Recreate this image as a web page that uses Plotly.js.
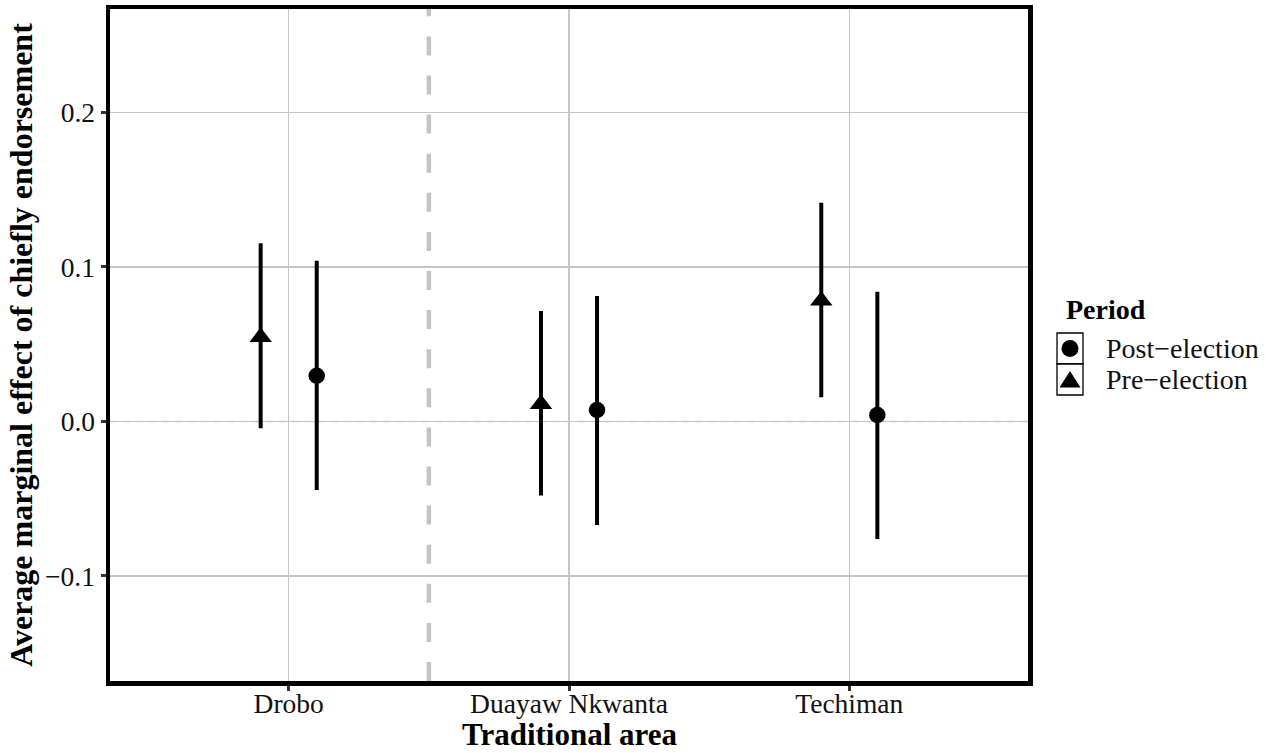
<!DOCTYPE html>
<html><head><meta charset="utf-8">
<script src="https://cdn.plot.ly/plotly-3.0.1.min.js"></script>
<style>html,body{margin:0;padding:0;background:#fff}#chart{width:1274px;height:753px}</style>
</head><body><div id="chart"></div>
<script>
// ---- data ----
const categories = ['Drobo', 'Duayaw Nkwanta', 'Techiman'];
const preEstimate = [0.0546, 0.0113, 0.0782];
const preLower = [-0.0044, -0.0480, 0.0157];
const preUpper = [0.1153, 0.0715, 0.1416];
const postEstimate = [0.0296, 0.0074, 0.0042];
const postLower = [-0.0443, -0.0670, -0.0761];
const postUpper = [0.1041, 0.0812, 0.0840];
const yTickVals = [-0.1, 0, 0.1, 0.2];
const periodTitle = 'Period';
const periodLabels = ['Post\u2212election', 'Pre\u2212election'];
const xTitle = 'Traditional area';
const yTitle = 'Average marginal effect of chiefly endorsement';

// ---- layout helpers ----
const W = 1274, H = 753;
const L = 110, R = 1028, T = 9, B = 681;
const px2x = p => (p - L) / (R - L);
const px2y = p => (B - p) / (B - T);
const FONT = 'Liberation Serif, Times New Roman, serif';

const up = (u, e) => u.map((v, i) => v - e[i]);
const dn = (l, e) => e.map((v, i) => v - l[i]);

const tracePre = {
  type: 'scatter', mode: 'markers', name: periodLabels[1],
  x: categories, y: preEstimate, offsetgroup: 'pre', showlegend: false,
  marker: {symbol: 'triangle-up', size: 19.5, color: '#000'},
  error_y: {type: 'data', symmetric: false, array: up(preUpper, preEstimate),
            arrayminus: dn(preLower, preEstimate), width: 0, thickness: 4, color: '#000'},
  hoverinfo: 'x+y'
};
const tracePost = {
  type: 'scatter', mode: 'markers', name: periodLabels[0],
  x: categories, y: postEstimate, offsetgroup: 'post', showlegend: false,
  marker: {symbol: 'circle', size: 16.5, color: '#000'},
  error_y: {type: 'data', symmetric: false, array: up(postUpper, postEstimate),
            arrayminus: dn(postLower, postEstimate), width: 0, thickness: 4, color: '#000'},
  hoverinfo: 'x+y'
};

const keyX0 = px2x(1057), keyX1 = px2x(1083), keyXC = px2x(1070);
const shapes = [
  {type: 'line', layer: 'below', xref: 'paper', yref: 'y', x0: 0, x1: 1, y0: 0, y1: 0,
   line: {color: '#d2d2d2', width: 1.6, dash: '7px,6px'}},
  {type: 'line', layer: 'below', xref: 'x', yref: 'paper', x0: 0.5, x1: 0.5, y0: 0, y1: 1,
   line: {color: '#c4c4c4', width: 4.5, dash: '19px,20.1px'}},
  {type: 'rect', xref: 'paper', yref: 'paper', x0: keyX0, x1: keyX1, y0: px2y(364), y1: px2y(333),
   line: {color: '#000', width: 1.3}, fillcolor: '#fff'},
  {type: 'rect', xref: 'paper', yref: 'paper', x0: keyX0, x1: keyX1, y0: px2y(395), y1: px2y(364),
   line: {color: '#000', width: 1.3}, fillcolor: '#fff'},
  {type: 'circle', xref: 'paper', yref: 'paper', xsizemode: 'pixel', ysizemode: 'pixel',
   xanchor: keyXC, yanchor: px2y(348.5), x0: -8.5, x1: 8.5, y0: -8.5, y1: 8.5,
   fillcolor: '#000', line: {width: 0}},
  {type: 'path', xref: 'paper', yref: 'paper', xsizemode: 'pixel', ysizemode: 'pixel',
   xanchor: keyXC, yanchor: px2y(379.5), path: 'M-10.5,-8 L10.5,-8 L0,8.5 Z',
   fillcolor: '#000', line: {width: 0}}
];

const annotations = [
  {xref: 'paper', yref: 'paper', x: 0.5, y: px2y(734), xanchor: 'center', yanchor: 'middle',
   text: '<b>' + xTitle + '</b>', showarrow: false, font: {family: FONT, size: 31, color: '#000'}},
  {xref: 'paper', yref: 'paper', x: px2x(1064), y: px2y(309), xanchor: 'left', yanchor: 'middle',
   text: '<b>' + periodTitle + '</b>', showarrow: false, font: {family: FONT, size: 28, color: '#000'}},
  {xref: 'paper', yref: 'paper', x: px2x(1104), y: px2y(348), xanchor: 'left', yanchor: 'middle',
   text: periodLabels[0], showarrow: false, font: {family: FONT, size: 28, color: '#111'}},
  {xref: 'paper', yref: 'paper', x: px2x(1104), y: px2y(379), xanchor: 'left', yanchor: 'middle',
   text: periodLabels[1], showarrow: false, font: {family: FONT, size: 28, color: '#111'}}
];

const layout = {
  width: W, height: H,
  margin: {l: L, r: W - R, t: T, b: H - B, pad: 0},
  paper_bgcolor: '#fff', plot_bgcolor: '#fff',
  showlegend: false,
  scattermode: 'group', scattergap: 0.6,
  font: {family: FONT, color: '#111'},
  xaxis: {
    type: 'category', categoryorder: 'array', categoryarray: categories,
    range: [-0.6375, 2.6375],
    showgrid: true, gridcolor: '#c6c6c6', gridwidth: 1.6,
    showline: true, linecolor: '#000', linewidth: 4.5, mirror: true,
    ticks: 'outside', ticklen: 5, tickwidth: 3, tickcolor: '#333',
    ticklabelstandoff: -11,
    tickfont: {family: FONT, size: 27.5, color: '#111'},
    zeroline: false, automargin: false, fixedrange: true
  },
  yaxis: {
    range: [-0.168, 0.267],
    tickvals: yTickVals, tickformat: '.1f',
    showgrid: true, gridcolor: '#c6c6c6', gridwidth: 1.6,
    showline: true, linecolor: '#000', linewidth: 4.5, mirror: true,
    ticks: 'outside', ticklen: 5, tickwidth: 3, tickcolor: '#333',
    tickfont: {family: FONT, size: 27.5, color: '#111'},
    title: {text: '<b>' + yTitle + '</b>', font: {family: FONT, size: 32, color: '#000'}, standoff: 4},
    zeroline: false, automargin: false, fixedrange: true
  },
  shapes: shapes,
  annotations: annotations
};

Plotly.newPlot('chart', [tracePre, tracePost], layout, {displayModeBar: false, staticPlot: true});
</script>
</body></html>
